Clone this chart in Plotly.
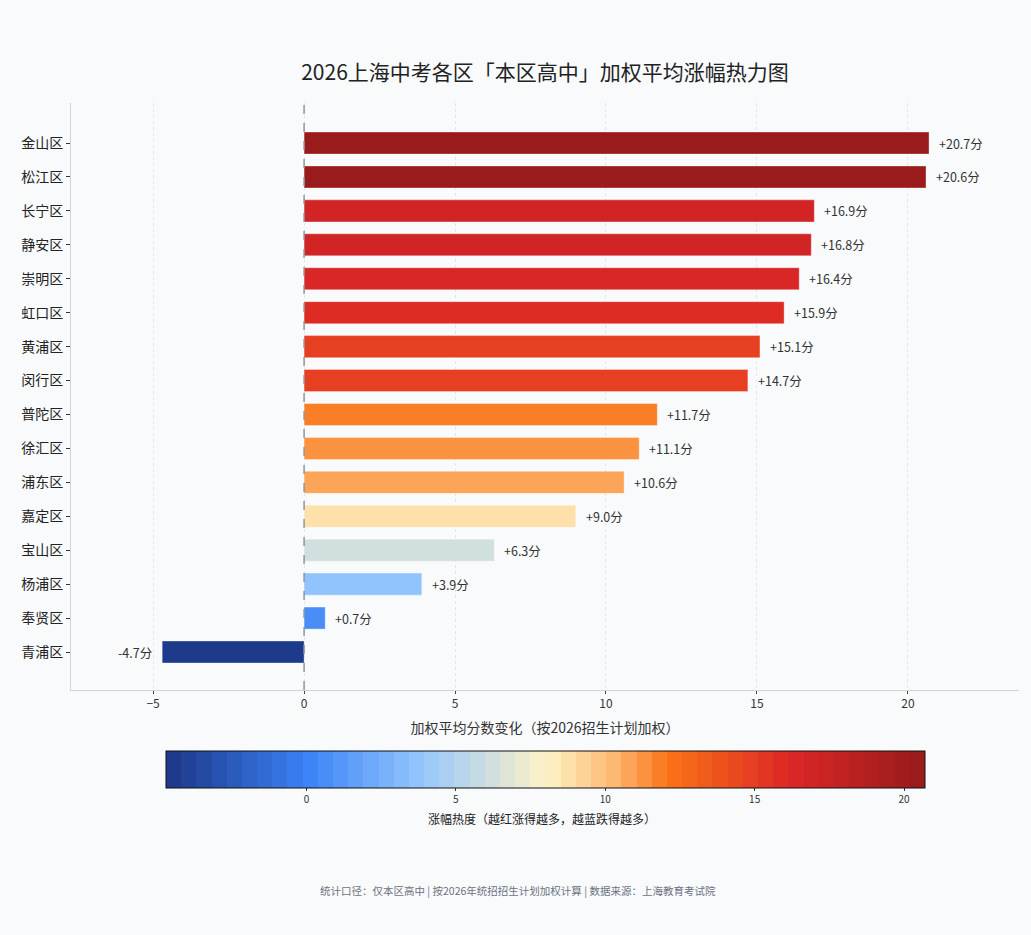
import plotly.graph_objects as go

districts = ["金山区", "松江区", "长宁区", "静安区", "崇明区", "虹口区", "黄浦区", "闵行区",
             "普陀区", "徐汇区", "浦东区", "嘉定区", "宝山区", "杨浦区", "奉贤区", "青浦区"]
changes = [20.7, 20.6, 16.9, 16.8, 16.4, 15.9, 15.1, 14.7,
           11.7, 11.1, 10.6, 9.0, 6.3, 3.9, 0.7, -4.7]
x_ticks = [-5, 0, 5, 10, 15, 20]
cbar_ticks = [0, 5, 10, 15, 20]

FONT = "Noto Sans CJK SC"
BG = "#f8fafc"
W, H = 1031, 935
L, R, T, B = 71, 12, 103, 245

# colormap anchors (style)
anchors = [(0.0, "#1e3a8a"), (0.18, "#3b82f6"), (0.33, "#93c5fd"), (0.5, "#fef3c7"),
           (0.59, "#fdba74"), (0.665, "#f97316"), (0.83, "#dc2626"), (1.0, "#991b1b")]


def hex2rgb(h):
    h = h.lstrip("#")
    return tuple(int(h[i:i + 2], 16) for i in (0, 2, 4))


def interp(t):
    for (p0, c0), (p1, c1) in zip(anchors[:-1], anchors[1:]):
        if p0 <= t <= p1:
            f = (t - p0) / (p1 - p0) if p1 > p0 else 0
            a, b = hex2rgb(c0), hex2rgb(c1)
            return "rgb(%d,%d,%d)" % tuple(round(a[i] + (b[i] - a[i]) * f) for i in range(3))
    return anchors[-1][1]


N = 50
colorscale = []
for k in range(N):
    c = interp(k / (N - 1))
    colorscale.append([k / N, c])
    colorscale.append([(k + 1) / N, c])

cmin, cmax = min(changes), max(changes)

fig = go.Figure()
fig.add_trace(go.Bar(
    x=changes, y=districts, orientation="h", width=0.65,
    marker=dict(
        color=changes, colorscale=colorscale, cmin=cmin, cmax=cmax,
        line=dict(color="rgba(255,255,255,0.6)", width=0.6),
        showscale=True,
        colorbar=dict(
            orientation="h", xref="paper", yref="container",
            x=(545.5 - L) / (W - L - R), xanchor="center",
            y=(H - 751) / H, yanchor="top",
            len=759 / (W - L - R), lenmode="fraction",
            thickness=37, thicknessmode="pixels", xpad=0, ypad=0,
            outlinecolor="#111", outlinewidth=1,
            tickvals=cbar_ticks, ticks="outside", ticklen=3, tickcolor="#333",
            tickfont=dict(family=FONT, size=10, color="#333"),
        ),
    ),
    hoverinfo="x+y",
))

for d, v in zip(districts, changes):
    fig.add_annotation(
        x=v, y=d, text=("%+.1f分" % v), showarrow=False,
        xanchor="left" if v >= 0 else "right", xshift=8 if v >= 0 else -8,
        font=dict(family=FONT, size=12.5, color="#333"),
    )

fig.add_vline(x=0, line=dict(color="#8a9099", width=1.4, dash="dash"))

fig.update_layout(
    width=W, height=H,
    paper_bgcolor=BG, plot_bgcolor=BG,
    margin=dict(l=L, r=R, t=T, b=B),
    font=dict(family=FONT, color="#222"),
    showlegend=False,
    title=dict(text="2026上海中考各区「本区高中」加权平均涨幅热力图",
               x=545 / W, xanchor="center", y=1 - 73 / H, yanchor="middle",
               font=dict(family=FONT, size=21, color="#222")),
    xaxis=dict(
        range=[-7.72, 23.68], tickvals=x_ticks, zeroline=False,
        showgrid=True, gridcolor="#e2e5e9", griddash="3px,3px", gridwidth=1,
        showline=True, linecolor="#cfd4da", linewidth=1,
        ticks="outside", ticklen=3, tickcolor="#444",
        tickfont=dict(family=FONT, size=12, color="#333"),
        title=dict(text="加权平均分数变化（按2026招生计划加权）", standoff=12,
                   font=dict(family=FONT, size=14, color="#333")),
    ),
    yaxis=dict(
        categoryorder="array", categoryarray=districts,
        range=[16.12, -1.18], showgrid=False, zeroline=False,
        showline=True, linecolor="#cfd4da", linewidth=1,
        ticks="outside", ticklen=4, tickcolor="#333",
        tickfont=dict(family=FONT, size=14, color="#222"),
    ),
)

fig.add_annotation(
    text="涨幅热度（越红涨得越多，越蓝跌得越多）",
    xref="paper", yref="paper", x=(542 - L) / (W - L - R), y=-(818 - (H - B)) / (H - B - T),
    xanchor="center", yanchor="middle", showarrow=False,
    font=dict(family=FONT, size=12, color="#222"),
)

fig.add_annotation(
    text="统计口径：仅本区高中 | 按2026年统招招生计划加权计算 | 数据来源：上海教育考试院",
    xref="paper", yref="paper", x=(518 - L) / (W - L - R), y=-(890 - (H - B)) / (H - B - T),
    xanchor="center", yanchor="middle", showarrow=False,
    font=dict(family=FONT, size=10.5, color="#6b7280"),
)

fig.write_html(
    "out.html",
    config={"displayModeBar": False},
    post_script="document.body.style.margin='0';document.body.style.background='%s';" % BG,
)
